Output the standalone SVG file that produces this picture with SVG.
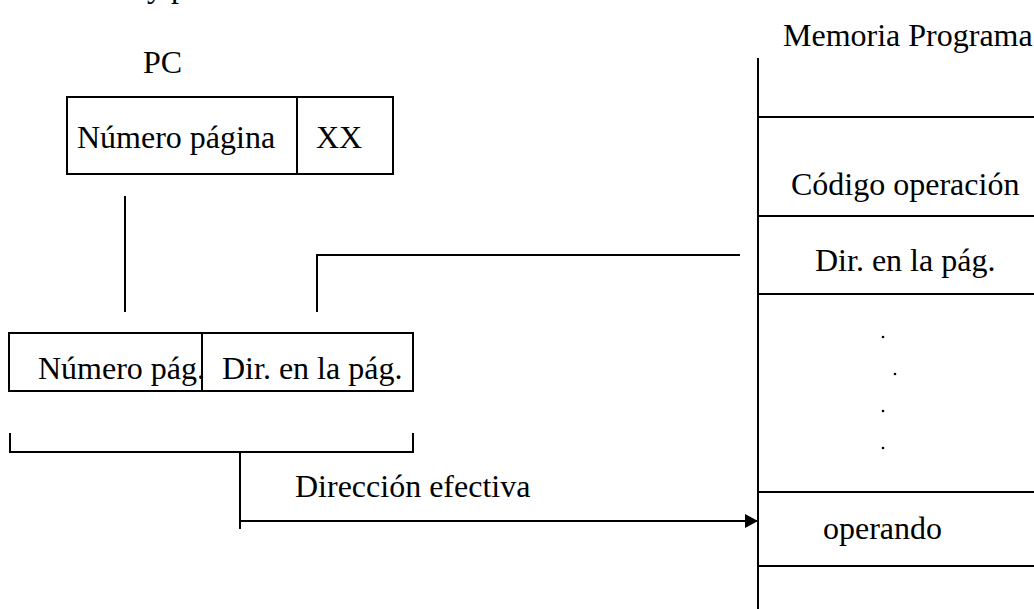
<svg xmlns="http://www.w3.org/2000/svg" width="1034" height="609" viewBox="0 0 1034 609">
  <style>
    .ln { stroke: #000; stroke-width: 2; fill: none; }
    .box { stroke: #000; stroke-width: 2; fill: #fff; }
    .t { font-family: "Liberation Serif", "Times New Roman", serif; font-size: 32px; fill: #000; }
    .dot { fill: #000; }
  </style>
  <defs>
    <marker id="arrow" markerWidth="14" markerHeight="14" refX="13" refY="7" orient="auto" markerUnits="userSpaceOnUse">
      <path d="M0,0 L13,7 L0,14 Z" fill="#000"/>
    </marker>
  </defs>

  <rect width="1034" height="609" fill="#fff"/>

  <!-- fragment of the preceding line of text -->
  <text class="t" x="147" y="-3">y p</text>

  <!-- program counter register -->
  <g id="pc">
    <text class="t" x="143" y="73">PC</text>
    <rect class="box" x="67" y="97" width="326" height="77"/>
    <line class="ln" x1="297" y1="97" x2="297" y2="174"/>
    <text class="t" x="77" y="148">Número página</text>
    <text class="t" x="316" y="148">XX</text>
  </g>

  <!-- effective address register -->
  <g id="effective-address">
    <rect class="box" x="9" y="333" width="404" height="58"/>
    <line class="ln" x1="202" y1="333" x2="202" y2="391"/>
    <text class="t" x="38" y="379">Número pág.</text>
    <text class="t" x="222" y="379">Dir. en la pág.</text>
    <path class="ln" d="M10,433 V452 H413 V433"/>
    <text class="t" x="295" y="497">Dirección efectiva</text>
  </g>

  <!-- program memory -->
  <g id="program-memory">
    <text class="t" x="783" y="46">Memoria Programa</text>
    <line class="ln" x1="758" y1="58" x2="758" y2="609"/>
    <line class="ln" x1="758" y1="117" x2="1034" y2="117"/>
    <line class="ln" x1="758" y1="216" x2="1034" y2="216"/>
    <line class="ln" x1="758" y1="294" x2="1034" y2="294"/>
    <line class="ln" x1="758" y1="492" x2="1034" y2="492"/>
    <line class="ln" x1="758" y1="566" x2="1034" y2="566"/>
    <text class="t" x="791" y="195">Código operación</text>
    <text class="t" x="815" y="271">Dir. en la pág.</text>
    <circle class="dot" cx="883" cy="337" r="1.3"/>
    <circle class="dot" cx="895" cy="374" r="1.3"/>
    <circle class="dot" cx="883" cy="411" r="1.3"/>
    <circle class="dot" cx="883" cy="448" r="1.3"/>
    <text class="t" x="823" y="539">operando</text>
  </g>

  <!-- connectors -->
  <g id="connectors">
    <line class="ln" x1="125" y1="196" x2="125" y2="312"/>
    <path class="ln" d="M317,312 V255 H740"/>
    <line class="ln" x1="240" y1="452" x2="240" y2="529"/>
    <line class="ln" x1="240" y1="521" x2="758" y2="521" marker-end="url(#arrow)"/>
  </g>
</svg>
